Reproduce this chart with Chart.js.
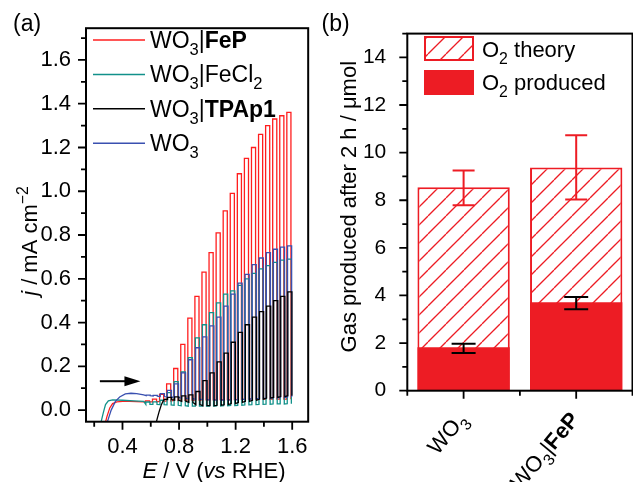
<!DOCTYPE html>
<html>
<head>
<meta charset="utf-8">
<title>WO3 photoanodes</title>
<script src="https://cdn.jsdelivr.net/npm/chart.js@4.4.1/dist/chart.umd.min.js"></script>
<style>
  html, body { margin: 0; padding: 0; background: #fff; }
  #wrap { position: relative; width: 633px; height: 482px; overflow: hidden; }
  #chartA { position: absolute; left: 0; top: 0; }
  #chartB { position: absolute; left: 320px; top: 0; }
</style>
</head>
<body>
<div id="wrap">
  <canvas id="chartA" width="320" height="482"></canvas>
  <canvas id="chartB" width="313" height="482"></canvas>
</div>
<script>
// ---- (a) chopped-light sweeps, E in V vs RHE, j in mA cm-2 ----
const chopOn = [0.562, 0.612, 0.662, 0.712, 0.762, 0.812, 0.862, 0.912, 0.962, 1.012, 1.062,
                1.112, 1.162, 1.212, 1.262, 1.312, 1.362, 1.412, 1.462, 1.512, 1.562];
const chopWidth = 0.029;

const fepPreV = [0.27, 0.29, 0.31, 0.33, 0.36, 0.40, 0.45, 0.50, 0.55];
const fepPreJ = [-0.08, -0.03, 0.01, 0.03, 0.038, 0.04, 0.04, 0.039, 0.038];
const fepLight = [0.042, 0.05, 0.072, 0.12, 0.19, 0.30, 0.42, 0.52, 0.63, 0.72, 0.81,
                  0.91, 0.99, 1.08, 1.15, 1.20, 1.26, 1.30, 1.33, 1.345, 1.36];
const fepDark = [0.038, 0.038, 0.04, 0.042, 0.044, 0.045, 0.046, 0.046, 0.047, 0.047, 0.048,
                 0.048, 0.048, 0.049, 0.05, 0.05, 0.05, 0.05, 0.05, 0.05, 0.05];

const fecl2PreV = [0.25, 0.265, 0.28, 0.30, 0.33, 0.40, 0.48, 0.55];
const fecl2PreJ = [-0.05, -0.01, 0.025, 0.042, 0.047, 0.045, 0.042, 0.04];
const fecl2Light = [0.037, 0.038, 0.045, 0.08, 0.13, 0.175, 0.24, 0.33, 0.39, 0.445, 0.49,
                    0.53, 0.545, 0.57, 0.60, 0.625, 0.645, 0.66, 0.675, 0.685, 0.69];
const fecl2Dark = [0.026, 0.026, 0.025, 0.024, 0.022, 0.02, 0.018, 0.018, 0.018, 0.018, 0.019,
                   0.02, 0.021, 0.022, 0.024, 0.025, 0.026, 0.027, 0.028, 0.028, 0.029];

const tpap1PreV = [0.63, 0.645, 0.66, 0.675, 0.69, 0.70];
const tpap1PreJ = [-0.08, -0.04, -0.005, 0.025, 0.045, 0.05];
const tpap1Light = [null, null, null, 0.058, 0.06, 0.065, 0.07, 0.085, 0.135, 0.17, 0.22,
                    0.26, 0.31, 0.355, 0.39, 0.425, 0.45, 0.475, 0.50, 0.52, 0.54];
const tpap1Dark = [null, null, null, 0.048, 0.045, 0.04, 0.035, 0.025, 0.02, 0.02, 0.022,
                   0.025, 0.03, 0.035, 0.04, 0.045, 0.05, 0.055, 0.058, 0.062, 0.066];

const wo3PreV = [0.28, 0.30, 0.32, 0.35, 0.38, 0.42, 0.46, 0.50, 0.55];
const wo3PreJ = [-0.08, -0.04, 0.0, 0.04, 0.06, 0.074, 0.077, 0.075, 0.07];
const wo3Light = [0.068, 0.067, 0.075, 0.09, 0.12, 0.17, 0.23, 0.285, 0.335, 0.385, 0.425,
                  0.475, 0.53, 0.58, 0.62, 0.665, 0.695, 0.72, 0.735, 0.745, 0.75];
const wo3Dark = [0.066, 0.064, 0.062, 0.06, 0.058, 0.055, 0.052, 0.05, 0.048, 0.047, 0.046,
                 0.046, 0.047, 0.048, 0.05, 0.052, 0.054, 0.055, 0.056, 0.058, 0.06];

// small lag of each trace's light pulses
const chopLag = { fep: 0, fecl2: 0.003, wo3: 0.005, tpap1: 0.007 };

const xTicksA = [0.4, 0.8, 1.2, 1.6];
const xMinorA = [0.2, 0.6, 1.0, 1.4];
const yTicksA = [0.0, 0.2, 0.4, 0.6, 0.8, 1.0, 1.2, 1.4, 1.6];
const yMinorA = [0.1, 0.3, 0.5, 0.7, 0.9, 1.1, 1.3, 1.5, 1.7];
const arrowV = [0.24, 0.527];
const arrowJ = 0.132;

// ---- (b) O2 after 2 h, umol ----
const categories = ['WO₃', 'WO₃|FeP'];
const o2Theory = [8.55, 9.38];
const o2TheoryLow = [7.79, 8.03];
const o2TheoryHigh = [9.25, 10.73];
const o2Produced = [1.82, 3.72];
const o2ProducedLow = [1.58, 3.42];
const o2ProducedHigh = [1.97, 3.94];
const yTicksB = [0, 2, 4, 6, 8, 10, 12, 14];
const yMinorB = [1, 3, 5, 7, 9, 11, 13, 15];

const RED = '#ED1C24';
const FONT = '"Liberation Sans", Arial, sans-serif';
Chart.defaults.font.family = FONT;
Chart.defaults.color = '#000';

// rich text helpers (sub/superscripts, bold, italic)
function font(size, bold, italic) {
    return (italic ? 'italic ' : '') + (bold ? 'bold ' : '') + size + 'px ' + FONT;
}
function segSize(s, size) { return (s.sub || s.sup) ? size * 0.72 : size; }
function richWidth(ctx, segs, size) {
    let w = 0;
    segs.forEach(s => { ctx.font = font(segSize(s, size), s.b, s.i); w += ctx.measureText(s.t).width; });
    return w;
}
function drawRich(ctx, segs, x, y, size, align) {
    const w = richWidth(ctx, segs, size);
    let cx = align === 'center' ? x - w / 2 : align === 'right' ? x - w : x;
    ctx.textAlign = 'left';
    ctx.textBaseline = 'alphabetic';
    ctx.fillStyle = '#000';
    segs.forEach(s => {
        ctx.font = font(segSize(s, size), s.b, s.i);
        const dy = s.sub ? size * 0.32 : s.sup ? -size * 0.42 : 0;
        ctx.fillText(s.t, cx, y + dy);
        cx += ctx.measureText(s.t).width;
    });
}
function drawRichRotated(ctx, segs, x, y, size, align, angle) {
    ctx.save();
    ctx.translate(x, y);
    ctx.rotate(angle);
    drawRich(ctx, segs, 0, 0, size, align);
    ctx.restore();
}
function drawTicks(ctx, scale, values, len, area) {
    ctx.beginPath();
    values.forEach(v => {
        const p = scale.getPixelForValue(v);
        if (scale.isHorizontal()) { ctx.moveTo(p, area.bottom); ctx.lineTo(p, area.bottom + len); }
        else { ctx.moveTo(area.left, p); ctx.lineTo(area.left - len, p); }
    });
    ctx.stroke();
}

// build the chopped trace: sweep before chopping, then dark/light steps
function chopTrace(preV, preJ, light, dark, lag) {
    const pts = preV.map((v, i) => ({ x: v, y: preJ[i] }));
    chopOn.forEach((on, k) => {
        if (light[k] == null) return;
        const a = on + lag, b = on + lag + chopWidth;
        pts.push({ x: a, y: dark[k] }, { x: a, y: light[k] }, { x: b, y: light[k] }, { x: b, y: dark[k] });
    });
    return pts;
}

const legendA = [
    { segs: [{ t: 'WO' }, { t: '3', sub: true }, { t: '|' }, { t: 'FeP', b: true }], color: '#FF1E1E' },
    { segs: [{ t: 'WO' }, { t: '3', sub: true }, { t: '|FeCl' }, { t: '2', sub: true }], color: '#12918A' },
    { segs: [{ t: 'WO' }, { t: '3', sub: true }, { t: '|' }, { t: 'TPAp1', b: true }], color: '#000000' },
    { segs: [{ t: 'WO' }, { t: '3', sub: true }], color: '#3A50B0' }
];

const decorA = {
    id: 'decorA',
    afterDraw(chart) {
        const ctx = chart.ctx, area = chart.chartArea;
        const xs = chart.scales.x, ys = chart.scales.y;
        ctx.save();
        ctx.strokeStyle = '#000';
        ctx.lineWidth = 2;
        ctx.strokeRect(area.left, area.top, area.right - area.left, area.bottom - area.top);
        ctx.lineWidth = 1.8;
        drawTicks(ctx, xs, xTicksA, 8, area);
        drawTicks(ctx, xs, xMinorA, 5, area);
        drawTicks(ctx, ys, yTicksA, 8, area);
        drawTicks(ctx, ys, yMinorA, 5, area);

        // sweep direction arrow
        const x1 = xs.getPixelForValue(arrowV[0]), x2 = xs.getPixelForValue(arrowV[1]);
        const ay = ys.getPixelForValue(arrowJ);
        ctx.lineWidth = 2;
        ctx.beginPath(); ctx.moveTo(x1, ay); ctx.lineTo(x2 - 10, ay); ctx.stroke();
        ctx.fillStyle = '#000';
        ctx.beginPath(); ctx.moveTo(x2, ay); ctx.lineTo(x2 - 16, ay - 5); ctx.lineTo(x2 - 16, ay + 5); ctx.closePath(); ctx.fill();

        // legend
        legendA.forEach((e, i) => {
            const ly = 40 + i * 34.4;
            ctx.strokeStyle = e.color; ctx.lineWidth = 1.5;
            ctx.beginPath(); ctx.moveTo(93, ly); ctx.lineTo(145, ly); ctx.stroke();
            drawRich(ctx, e.segs, 150, ly + 7.7, 23, 'left');
        });

        // axis titles and panel label
        drawRich(ctx, [{ t: 'E', i: true }, { t: ' / V (' }, { t: 'vs', i: true }, { t: ' RHE)' }], 214, 477.5, 22, 'center');
        drawRichRotated(ctx, [{ t: 'j', i: true }, { t: ' / mA cm' }, { t: '−2', sup: true }], 37, 241, 22, 'center', -Math.PI / 2);
        drawRich(ctx, [{ t: '(a)' }], 13, 31, 23, 'left');
        ctx.restore();
    }
};

function traceSet(label, data, color, order) {
    return { label, data, borderColor: color, borderWidth: 1.3, showLine: true, pointRadius: 0, tension: 0, order };
}

new Chart(document.getElementById('chartA'), {
    type: 'scatter',
    data: {
        datasets: [
            traceSet('WO₃|FeP', chopTrace(fepPreV, fepPreJ, fepLight, fepDark, chopLag.fep), legendA[0].color, 3),
            traceSet('WO₃|FeCl₂', chopTrace(fecl2PreV, fecl2PreJ, fecl2Light, fecl2Dark, chopLag.fecl2), legendA[1].color, 2),
            traceSet('WO₃|TPAp1', chopTrace(tpap1PreV, tpap1PreJ, tpap1Light, tpap1Dark, chopLag.tpap1), legendA[2].color, 0),
            traceSet('WO₃', chopTrace(wo3PreV, wo3PreJ, wo3Light, wo3Dark, chopLag.wo3), legendA[3].color, 1)
        ]
    },
    options: {
        responsive: false,
        animation: false,
        devicePixelRatio: 1,
        layout: { padding: { left: 0, right: 7, top: 22.7, bottom: 0 } },
        plugins: { legend: { display: false }, tooltip: { enabled: false } },
        scales: {
            x: {
                type: 'linear', min: 0.142, max: 1.713,
                afterFit: s => { s.height = 60.3; },
                afterBuildTicks: s => { s.ticks = xTicksA.map(v => ({ value: v })); },
                grid: { display: false, drawTicks: false },
                border: { display: false },
                ticks: { font: { size: 22 }, padding: 12, maxRotation: 0, callback: v => v.toFixed(1) }
            },
            y: {
                type: 'linear', min: -0.053, max: 1.745,
                afterFit: s => { s.width = 86; },
                afterBuildTicks: s => { s.ticks = yTicksA.map(v => ({ value: v })); },
                grid: { display: false, drawTicks: false },
                border: { display: false },
                ticks: { font: { size: 22 }, padding: 15, callback: v => v.toFixed(1) }
            }
        }
    },
    plugins: [decorA]
});

// ---- (b) ----
function hatchPattern(ctx) {
    const p = 18, c = document.createElement('canvas');
    c.width = p; c.height = p;
    const g = c.getContext('2d');
    g.fillStyle = '#fff'; g.fillRect(0, 0, p, p);
    g.strokeStyle = RED; g.lineWidth = 1.3;
    [-p, 0, p].forEach(o => { g.beginPath(); g.moveTo(o, p); g.lineTo(o + p, 0); g.stroke(); });
    return ctx.createPattern(c, 'repeat');
}

const canvasB = document.getElementById('chartB');
const hatch = hatchPattern(canvasB.getContext('2d'));

const catLabels = [
    [{ t: 'WO' }, { t: '3', sub: true }],
    [{ t: 'WO' }, { t: '3', sub: true }, { t: '|' }, { t: 'FeP', b: true }]
];

function errBar(ctx, x, y1, y2, half, color) {
    ctx.strokeStyle = color; ctx.lineWidth = 2;
    ctx.beginPath();
    ctx.moveTo(x, y1); ctx.lineTo(x, y2);
    ctx.moveTo(x - half, y1); ctx.lineTo(x + half, y1);
    ctx.moveTo(x - half, y2); ctx.lineTo(x + half, y2);
    ctx.stroke();
}

const decorB = {
    id: 'decorB',
    afterDatasetsDraw(chart) {
        const ctx = chart.ctx, xs = chart.scales.x, ys = chart.scales.y;
        ctx.save();
        categories.forEach((c, i) => {
            const x = xs.getPixelForValue(i);
            errBar(ctx, x, ys.getPixelForValue(o2TheoryLow[i]), ys.getPixelForValue(o2TheoryHigh[i]), 11, RED);
            errBar(ctx, x, ys.getPixelForValue(o2ProducedLow[i]), ys.getPixelForValue(o2ProducedHigh[i]), 12, '#000');
        });
        ctx.restore();
    },
    afterDraw(chart) {
        const ctx = chart.ctx, area = chart.chartArea;
        const xs = chart.scales.x, ys = chart.scales.y;
        ctx.save();
        ctx.strokeStyle = '#000';
        ctx.lineWidth = 2;
        ctx.strokeRect(area.left, area.top, area.right - area.left, area.bottom - area.top);
        ctx.lineWidth = 1.8;
        drawTicks(ctx, ys, yTicksB, 8, area);
        drawTicks(ctx, ys, yMinorB, 5, area);
        const centers = categories.map((c, i) => xs.getPixelForValue(i));
        const half = (centers[1] - centers[0]) / 2;
        ctx.beginPath();
        centers.forEach(cx => { ctx.moveTo(cx, area.bottom); ctx.lineTo(cx, area.bottom + 8); });
        [centers[0] - half, centers[0] + half, centers[1] + half].forEach(bx => {
            ctx.moveTo(bx, area.bottom); ctx.lineTo(bx, area.bottom + 5);
        });
        ctx.stroke();

        // category labels, rotated
        centers.forEach((cx, i) => {
            drawRichRotated(ctx, catLabels[i], cx + 4, 420, 22, 'right', -50 * Math.PI / 180);
        });

        // legend
        ctx.fillStyle = hatch;
        ctx.fillRect(104, 36, 50, 25);
        ctx.strokeStyle = RED; ctx.lineWidth = 2;
        ctx.strokeRect(105, 37, 48, 23);
        ctx.fillStyle = RED;
        ctx.fillRect(104, 70, 50, 25);
        drawRich(ctx, [{ t: 'O' }, { t: '2', sub: true }, { t: ' theory' }], 162, 56.7, 22, 'left');
        drawRich(ctx, [{ t: 'O' }, { t: '2', sub: true }, { t: ' produced' }], 162, 90, 22, 'left');

        drawRichRotated(ctx, [{ t: 'Gas produced after 2 h / μmol' }], 36, 206.7, 22, 'center', -Math.PI / 2);
        drawRich(ctx, [{ t: '(b)' }], 1.5, 31, 23, 'left');
        ctx.restore();
    }
};

new Chart(canvasB, {
    type: 'bar',
    data: {
        labels: categories,
        datasets: [{
            label: 'O₂ theory',
            data: o2Theory,
            backgroundColor: hatch,
            borderColor: RED,
            borderWidth: 2,
            borderSkipped: false,
            order: 1
        }, {
            label: 'O₂ produced',
            data: o2Produced,
            backgroundColor: RED,
            borderWidth: 0,
            order: 0
        }]
    },
    options: {
        responsive: false,
        animation: false,
        devicePixelRatio: 1,
        grouped: false,
        barPercentage: 0.82,
        categoryPercentage: 1,
        layout: { padding: { left: 0, right: 0.5, top: 23.3, bottom: 0 } },
        plugins: { legend: { display: false }, tooltip: { enabled: false } },
        scales: {
            x: {
                afterFit: s => { s.height = 91.3; },
                grid: { display: false, drawTicks: false },
                border: { display: false },
                ticks: { display: false }
            },
            y: {
                min: 0, max: 15,
                afterFit: s => { s.width = 87.3; },
                afterBuildTicks: s => { s.ticks = yTicksB.map(v => ({ value: v })); },
                grid: { display: false, drawTicks: false },
                border: { display: false },
                ticks: { font: { size: 21 }, padding: 21 }
            }
        }
    },
    plugins: [decorB]
});
</script>
</body>
</html>
